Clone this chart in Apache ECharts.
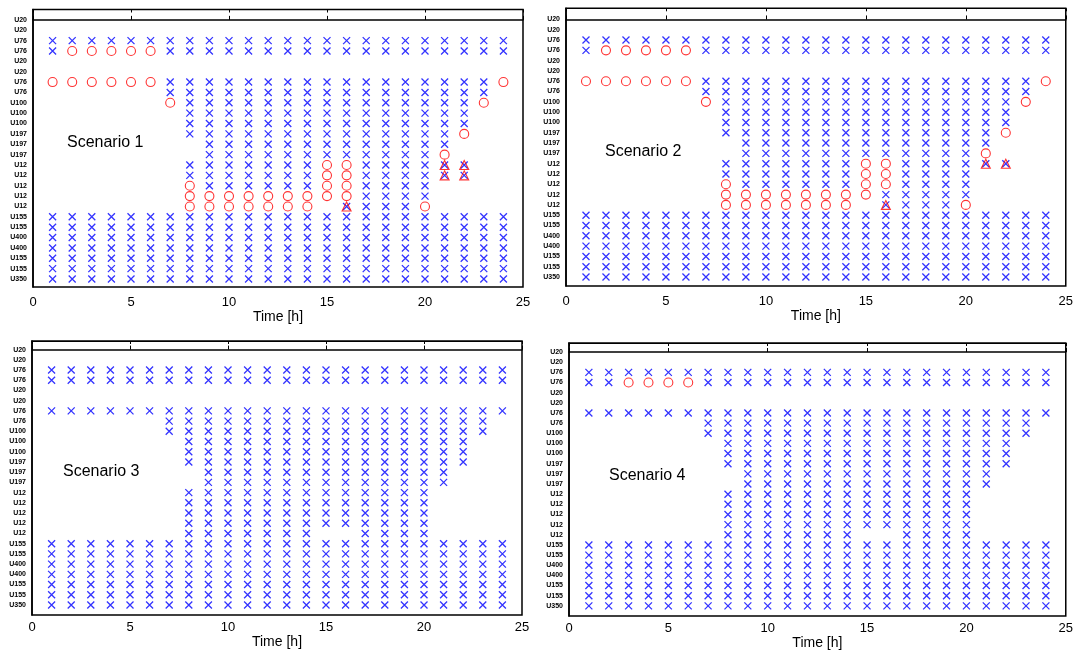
<!DOCTYPE html>
<html lang="en">
<head>
    <meta charset="UTF-8">
    <title>Scenarios</title>
    <script src="https://cdn.jsdelivr.net/npm/echarts@6/dist/echarts.min.js"></script>
    <style>
        html, body { margin: 0; padding: 0; background: #fff; }
        #main { width: 1076px; height: 657px; }
    </style>
</head>
<body>
<div id="main"></div>

<script type="text/javascript">
    // unit names, top row first
    var unitLabels = ['U20', 'U20', 'U76', 'U76', 'U20', 'U20', 'U76', 'U76', 'U100', 'U100', 'U100',
        'U197', 'U197', 'U197', 'U12', 'U12', 'U12', 'U12', 'U12',
        'U155', 'U155', 'U400', 'U400', 'U155', 'U155', 'U350'];

    var scenarioNames = ['Scenario 1', 'Scenario 2', 'Scenario 3', 'Scenario 4'];

    // one string per unit row, one char per hour 1..24
    // x = committed, o = red circle, t = red triangle (over an x), . = nothing
    var scenario1Rows = [
        '........................',
        '........................',
        'xxxxxxxxxxxxxxxxxxxxxxxx',
        'xoooooxxxxxxxxxxxxxxxxxx',
        '........................',
        '........................',
        'ooooooxxxxxxxxxxxxxxxxxo',
        '......xxxxxxxxxxxxxxxxx.',
        '......oxxxxxxxxxxxxxxxo.',
        '.......xxxxxxxxxxxxxxx..',
        '.......xxxxxxxxxxxxxxx..',
        '.......xxxxxxxxxxxxxxo..',
        '........xxxxxxxxxxxxx...',
        '........xxxxxxxxxxxxo...',
        '.......xxxxxxxooxxxxtt..',
        '.......xxxxxxxooxxxxtt..',
        '.......oxxxxxxooxxxx....',
        '.......oooooooooxxxx....',
        '.......ooooooo.txxxo....',
        'xxxxxxxxxxxxxxxxxxxxxxxx',
        'xxxxxxxxxxxxxxxxxxxxxxxx',
        'xxxxxxxxxxxxxxxxxxxxxxxx',
        'xxxxxxxxxxxxxxxxxxxxxxxx',
        'xxxxxxxxxxxxxxxxxxxxxxxx',
        'xxxxxxxxxxxxxxxxxxxxxxxx',
        'xxxxxxxxxxxxxxxxxxxxxxxx'
    ];

    var scenario2Rows = [
        '........................',
        '........................',
        'xxxxxxxxxxxxxxxxxxxxxxxx',
        'xoooooxxxxxxxxxxxxxxxxxx',
        '........................',
        '........................',
        'ooooooxxxxxxxxxxxxxxxxxo',
        '......xxxxxxxxxxxxxxxxx.',
        '......oxxxxxxxxxxxxxxxo.',
        '.......xxxxxxxxxxxxxxx..',
        '.......xxxxxxxxxxxxxxx..',
        '.......xxxxxxxxxxxxxxo..',
        '........xxxxxxxxxxxxx...',
        '........xxxxxxxxxxxxo...',
        '.......xxxxxxxooxxxxtt..',
        '.......xxxxxxxooxxxx....',
        '.......oxxxxxxooxxxx....',
        '.......ooooooooxxxxx....',
        '.......ooooooo.txxxo....',
        'xxxxxxxxxxxxxxxxxxxxxxxx',
        'xxxxxxxxxxxxxxxxxxxxxxxx',
        'xxxxxxxxxxxxxxxxxxxxxxxx',
        'xxxxxxxxxxxxxxxxxxxxxxxx',
        'xxxxxxxxxxxxxxxxxxxxxxxx',
        'xxxxxxxxxxxxxxxxxxxxxxxx',
        'xxxxxxxxxxxxxxxxxxxxxxxx'
    ];

    var scenario3Rows = [
        '........................',
        '........................',
        'xxxxxxxxxxxxxxxxxxxxxxxx',
        'xxxxxxxxxxxxxxxxxxxxxxxx',
        '........................',
        '........................',
        'xxxxxxxxxxxxxxxxxxxxxxxx',
        '......xxxxxxxxxxxxxxxxx.',
        '......xxxxxxxxxxxxxxxxx.',
        '.......xxxxxxxxxxxxxxx..',
        '.......xxxxxxxxxxxxxxx..',
        '.......xxxxxxxxxxxxxxx..',
        '........xxxxxxxxxxxxx...',
        '........xxxxxxxxxxxxx...',
        '.......xxxxxxxxxxxxx....',
        '.......xxxxxxxxxxxxx....',
        '.......xxxxxxxxxxxxx....',
        '.......xxxxxxxxxxxxx....',
        '.......xxxxxxx..xxxx....',
        'xxxxxxxxxxxxxxxxxxxxxxxx',
        'xxxxxxxxxxxxxxxxxxxxxxxx',
        'xxxxxxxxxxxxxxxxxxxxxxxx',
        'xxxxxxxxxxxxxxxxxxxxxxxx',
        'xxxxxxxxxxxxxxxxxxxxxxxx',
        'xxxxxxxxxxxxxxxxxxxxxxxx',
        'xxxxxxxxxxxxxxxxxxxxxxxx'
    ];

    var scenario4Rows = [
        '........................',
        '........................',
        'xxxxxxxxxxxxxxxxxxxxxxxx',
        'xxooooxxxxxxxxxxxxxxxxxx',
        '........................',
        '........................',
        'xxxxxxxxxxxxxxxxxxxxxxxx',
        '......xxxxxxxxxxxxxxxxx.',
        '......xxxxxxxxxxxxxxxxx.',
        '.......xxxxxxxxxxxxxxx..',
        '.......xxxxxxxxxxxxxxx..',
        '.......xxxxxxxxxxxxxxx..',
        '........xxxxxxxxxxxxx...',
        '........xxxxxxxxxxxxx...',
        '.......xxxxxxxxxxxxx....',
        '.......xxxxxxxxxxxxx....',
        '.......xxxxxxxxxxxxx....',
        '.......xxxxxxxxxxxxx....',
        '.......xxxxxxx..xxxx....',
        'xxxxxxxxxxxxxxxxxxxxxxxx',
        'xxxxxxxxxxxxxxxxxxxxxxxx',
        'xxxxxxxxxxxxxxxxxxxxxxxx',
        'xxxxxxxxxxxxxxxxxxxxxxxx',
        'xxxxxxxxxxxxxxxxxxxxxxxx',
        'xxxxxxxxxxxxxxxxxxxxxxxx',
        'xxxxxxxxxxxxxxxxxxxxxxxx'
    ];

    var xTicks = [0, 25, 5]; // min, max, step

    var allRows = [scenario1Rows, scenario2Rows, scenario3Rows, scenario4Rows];

    // panel layout (pixels)
    var panels = [
        {left: 33, top: 9.5, width: 490, height: 277.5, yMin: -1.0, yMax: 25.77, labelMargin: 9, text: [67, 135]},
        {left: 566, top: 8.3, width: 500, height: 277.7, yMin: -1.08, yMax: 25.87, labelMargin: 9, text: [605, 144]},
        {left: 32, top: 341, width: 490, height: 274, yMin: -0.84, yMax: 25.98, labelMargin: 6, text: [63, 464]},
        {left: 569, top: 343, width: 499, height: 273, yMin: -0.89, yMax: 26.0, labelMargin: 6, text: [609, 468]}
    ];

    var font = '"Liberation Sans", Arial, sans-serif';
    var crossPath = 'path://M0,0L10,10M10,0L0,10';

    var rowIdx = unitLabels.map(function (u, i) { return i; });

    var grid = [], xAxis = [], yAxis = [], series = [], title = [];

    panels.forEach(function (p, i) {
        grid.push({
            left: p.left, top: p.top, width: p.width, height: p.height,
            show: true, borderColor: '#000', borderWidth: 1.5, backgroundColor: '#fff'
        });

        xAxis.push({
            type: 'value', gridIndex: i, position: 'bottom',
            min: xTicks[0], max: xTicks[1], interval: xTicks[2],
            axisLine: {lineStyle: {color: '#000', width: 1.5}},
            axisTick: {inside: true, length: 4, lineStyle: {color: '#000'}},
            axisLabel: {fontSize: 13, color: '#000', fontFamily: font, margin: p.labelMargin},
            splitLine: {show: false},
            name: 'Time [h]', nameLocation: 'middle', nameGap: 20,
            nameTextStyle: {fontSize: 14, color: '#000', fontFamily: font, verticalAlign: 'top'}
        });
        xAxis.push({
            type: 'value', gridIndex: i, position: 'top',
            min: xTicks[0], max: xTicks[1], interval: xTicks[2],
            axisLine: {lineStyle: {color: '#000', width: 1}},
            axisTick: {inside: true, length: 3, lineStyle: {color: '#000'}},
            axisLabel: {show: false},
            splitLine: {show: false}
        });

        yAxis.push({
            type: 'value', gridIndex: i, inverse: true,
            min: p.yMin, max: p.yMax,
            axisLine: {lineStyle: {color: '#000', width: 1.5}},
            axisTick: {show: false},
            splitLine: {show: false},
            axisLabel: {
                customValues: rowIdx,
                formatter: function (v) { return unitLabels[Math.round(v)]; },
                fontSize: 7, fontWeight: 'bold', color: '#000', fontFamily: font, margin: 6,
                padding: [0, 0, 3, 0]
            }
        });

        var crosses = [], circles = [], triangles = [];
        allRows[i].forEach(function (row, r) {
            for (var h = 0; h < row.length; h++) {
                var c = row.charAt(h);
                if (c === 'x' || c === 't') crosses.push([h + 1, r]);
                if (c === 'o') circles.push([h + 1, r]);
                if (c === 't') triangles.push([h + 1, r]);
            }
        });

        series.push({
            type: 'scatter', xAxisIndex: 2 * i, yAxisIndex: i, data: crosses,
            symbol: crossPath, symbolSize: 7, silent: true,
            itemStyle: {color: '#0000ff', borderColor: '#0000ff', borderWidth: 1.3}
        });
        series.push({
            type: 'scatter', xAxisIndex: 2 * i, yAxisIndex: i, data: circles,
            symbol: 'circle', symbolSize: 9, silent: true,
            itemStyle: {color: 'rgba(0,0,0,0)', borderColor: '#ff0000', borderWidth: 1.1}
        });
        series.push({
            type: 'scatter', xAxisIndex: 2 * i, yAxisIndex: i, data: triangles,
            symbol: 'triangle', symbolSize: 9, silent: true,
            itemStyle: {color: 'rgba(0,0,0,0)', borderColor: '#ff0000', borderWidth: 1.1}
        });

        title.push({
            text: scenarioNames[i], left: p.text[0], top: p.text[1], padding: 0,
            textStyle: {fontSize: 16, fontWeight: 'normal', color: '#000', fontFamily: font}
        });
    });

    var myChart = echarts.init(document.getElementById('main'));
    myChart.setOption({
        animation: false,
        backgroundColor: '#fff',
        title: title,
        grid: grid,
        xAxis: xAxis,
        yAxis: yAxis,
        series: series
    });
</script>
</body>
</html>
